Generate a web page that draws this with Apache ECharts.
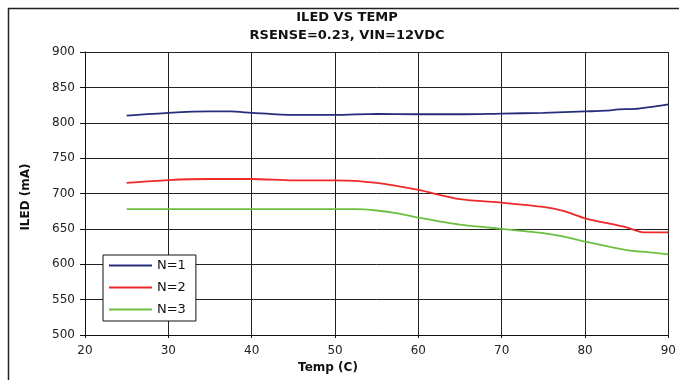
<!DOCTYPE html>
<html>
<head>
<meta charset="utf-8">
<script src="https://cdn.jsdelivr.net/npm/echarts@6/dist/echarts.min.js"></script>
<style>
html,body{margin:0;padding:0;background:#fff;}
#c{width:679px;height:380px;}
</style>
</head>
<body>
<div id="c"></div>
<script>
const titleLine1 = 'ILED VS TEMP';
const titleLine2 = 'RSENSE=0.23, VIN=12VDC';
const xName = 'Temp (C)';
const yName = 'ILED (mA)';
const seriesNames = ['N=1', 'N=2', 'N=3'];
const xTicks = [20, 30, 40, 50, 60, 70, 80, 90];
const yTicks = [500, 550, 600, 650, 700, 750, 800, 850, 900];

const n1 = [[25,810],[30,814],[35,816],[37.5,816],[40,814],[45,811],[50,811],[55,812.5],[60,812],[65,812],[70,813],[75,814],[80,816],[82.5,817],[84,819],[86,819.5],[90,826]];
const n2 = [[25,715],[30,719],[35,720.5],[40,720.5],[45,718.5],[50,718.5],[55,715],[60,705],[65,692],[70,687],[75,681],[77.5,675],[80,665],[85,652],[87,645],[90,645]];
const n3 = [[25,678],[30,678],[40,678],[50,678],[52.5,678],[55,676],[57.5,672],[60,666],[65,656],[70,650],[75,644],[77.5,639],[80,632],[85,620],[87.5,617],[90,614]];

const colors = ['#262d7a', '#f02828', '#6cc040'];
const font = 'DejaVu Sans';
const chart = echarts.init(document.getElementById('c'), null, {renderer: 'canvas'});

function mkSeries(name, data, color) {
  return {
    name: name, type: 'line', data: data, smooth: 0.25,
    symbol: 'none', showSymbol: false,
    lineStyle: {color: color, width: 1.8},
    itemStyle: {color: color},
    animation: false
  };
}

chart.setOption({
  animation: false,
  backgroundColor: '#fff',
  grid: {left: 85, right: 9, top: 52, bottom: 45, containLabel: false},
  xAxis: {
    type: 'value', min: xTicks[0], max: xTicks[xTicks.length-1], interval: 10,
    axisLine: {show: true, lineStyle: {color: '#111', width: 1}},
    axisTick: {show: true, length: 3, lineStyle: {color: '#111'}},
    axisLabel: {color: '#222', fontFamily: font, fontSize: 12, margin: 10},
    splitLine: {show: true, lineStyle: {color: '#222', width: 1}}
  },
  yAxis: {
    type: 'value', min: yTicks[0], max: yTicks[yTicks.length-1], interval: 50,
    axisLine: {show: true, lineStyle: {color: '#111', width: 1}},
    axisTick: {show: true, length: 5, lineStyle: {color: '#111'}},
    axisLabel: {color: '#222', fontFamily: font, fontSize: 12, margin: 10},
    splitLine: {show: true, lineStyle: {color: '#222', width: 1}}
  },
  legend: {
    show: true, orient: 'vertical', left: 103, top: 255,
    data: seriesNames, icon: 'path://M0,0H43V2H0Z', symbolKeepAspect: true,
    backgroundColor: '#fff', borderColor: '#111', borderWidth: 1,
    padding: [4, 10, 5, 6],
    itemWidth: 43, itemHeight: 14, itemGap: 9,
    textStyle: {fontFamily: font, fontSize: 13, color: '#111'}
  },
  series: [mkSeries(seriesNames[0], n1, colors[0]), mkSeries(seriesNames[1], n2, colors[1]), mkSeries(seriesNames[2], n3, colors[2])],
  graphic: [
    {type: 'rect', left: 6, top: 6, shape: {x: 0, y: 0, width: 700, height: 373}, style: {fill: 'none', stroke: '#222', lineWidth: 1.5}, silent: true, z: -1},
    {type: 'text', x: 347, y: 18, style: {text: titleLine1, font: 'bold 13px "DejaVu Sans"', fill: '#111', align: 'center', verticalAlign: 'middle'}},
    {type: 'text', x: 347, y: 36, style: {text: titleLine2, font: 'bold 13px "DejaVu Sans"', fill: '#111', align: 'center', verticalAlign: 'middle'}},
    {type: 'text', x: 328, y: 368, style: {text: xName, font: 'bold 12px "DejaVu Sans"', fill: '#111', align: 'center', verticalAlign: 'middle'}},
    {type: 'text', x: 26, y: 197, rotation: Math.PI/2, style: {text: yName, font: 'bold 12px "DejaVu Sans"', fill: '#111', align: 'center', verticalAlign: 'middle'}}
  ]
});
</script>
</body>
</html>
